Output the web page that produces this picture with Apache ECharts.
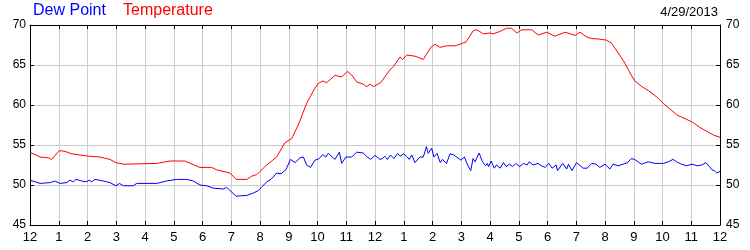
<!DOCTYPE html>
<html>
<head>
<meta charset="utf-8">
<script src="https://cdn.jsdelivr.net/npm/echarts@6/dist/echarts.min.js"></script>
<style>html,body{margin:0;padding:0;background:#fff}#c{width:750px;height:250px}</style>
</head>
<body>
<div id="c"></div>
<script>
const xTickLabels = ['12','1','2','3','4','5','6','7','8','9','10','11','12','1','2','3','4','5','6','7','8','9','10','11','12'];
const yTicks = [45, 50, 55, 60, 65, 70];
const dateText = '4/29/2013';

const tempHours = [0,0.35,0.64,0.75,1.02,1.22,1.45,2.03,2.43,2.78,2.99,3.25,4.41,4.87,5.39,5.91,6.32,6.49,6.96,7.17,7.54,7.71,7.89,8.0,8.23,8.58,8.87,9.1,9.33,9.62,9.74,9.91,10.03,10.18,10.32,10.61,10.84,11.04,11.19,11.36,11.59,11.71,11.83,11.94,12.2,12.52,12.64,12.87,12.96,13.1,13.39,13.68,13.94,14.09,14.26,14.49,14.78,14.96,15.17,15.42,15.54,15.77,16.0,16.11,16.35,16.58,16.75,16.93,17.1,17.45,17.68,17.97,18.26,18.61,18.96,19.13,19.36,19.54,19.77,20.06,20.23,20.46,20.7,20.87,21.04,21.28,21.51,21.8,22.03,22.26,22.5,22.84,23.07,23.3,23.54,23.77,24];
const tempValues = [54.1,53.5,53.4,53.2,54.3,54.2,53.9,53.6,53.5,53.2,52.8,52.6,52.7,53.0,53.0,52.2,52.2,51.9,51.5,50.7,50.7,51.1,51.3,51.7,52.5,53.5,55.3,55.8,57.5,60.2,61.0,62.1,62.7,63.0,62.8,63.7,63.5,64.2,63.75,62.9,62.6,62.3,62.6,62.3,62.8,64.4,64.8,66.0,65.7,66.25,66.1,65.7,67.2,67.6,67.2,67.4,67.4,67.6,67.9,69.3,69.4,68.9,69.0,68.9,69.2,69.6,69.6,69.0,69.4,69.4,68.75,69.1,68.6,69.1,68.7,69.1,68.5,68.3,68.25,68.1,67.7,66.5,65.2,64.0,63.0,62.3,61.8,61.0,60.2,59.5,58.75,58.2,57.8,57.2,56.7,56.25,55.95];

const dewHours = [0,0.35,0.7,0.87,1.04,1.28,1.39,1.51,1.6,1.8,1.95,2.06,2.15,2.26,2.55,2.78,2.99,3.11,3.25,3.59,3.71,4.41,4.75,5.1,5.45,5.68,5.91,6.15,6.38,6.72,6.84,7.02,7.17,7.54,7.77,7.94,8.07,8.24,8.41,8.58,8.73,8.9,9.06,9.22,9.39,9.51,9.62,9.76,9.91,10.06,10.18,10.29,10.37,10.61,10.76,10.84,10.99,11.19,11.36,11.59,11.73,11.85,12.0,12.17,12.26,12.34,12.43,12.54,12.66,12.78,12.87,13.0,13.12,13.19,13.28,13.39,13.56,13.68,13.79,13.85,13.97,14.05,14.16,14.27,14.34,14.49,14.61,14.74,14.99,15.05,15.11,15.22,15.33,15.41,15.48,15.62,15.74,15.85,15.91,15.95,16.04,16.15,16.23,16.35,16.47,16.56,16.68,16.79,16.9,17.03,17.17,17.29,17.36,17.5,17.67,17.74,17.91,18.05,18.16,18.3,18.35,18.53,18.67,18.73,18.85,19.01,19.24,19.38,19.54,19.68,19.82,20.0,20.17,20.28,20.45,20.63,20.79,20.91,21.03,21.15,21.27,21.5,21.74,21.91,22.03,22.2,22.37,22.49,22.66,22.84,23.03,23.2,23.37,23.51,23.63,23.72,23.8,23.89,24];
const dewValues = [50.6,50.2,50.3,50.5,50.2,50.3,50.6,50.4,50.7,50.5,50.4,50.6,50.4,50.7,50.5,50.3,49.9,50.2,49.9,49.9,50.2,50.2,50.5,50.7,50.7,50.5,50.0,49.9,49.6,49.5,49.7,49.1,48.6,48.7,49.0,49.3,49.8,50.4,50.8,51.5,51.4,51.9,53.2,52.8,53.4,53.5,52.5,52.2,53.1,53.3,53.8,53.5,53.95,53.2,54.1,52.7,53.5,53.5,54.1,54.0,53.5,53.2,53.7,53.2,53.3,53.6,53.2,53.75,53.3,53.95,53.6,53.9,53.5,53.2,53.75,52.8,53.5,53.5,54.8,53.95,54.6,53.5,53.95,52.8,53.2,52.7,53.9,53.75,53.1,53.3,53.5,52.5,51.8,53.3,52.9,54.0,52.9,52.4,52.7,52.3,53.0,52.1,52.5,52.1,52.8,52.3,52.6,52.3,52.7,52.3,52.7,52.5,52.9,52.5,52.7,52.5,52.2,52.7,52.1,52.5,51.8,52.7,52.0,52.6,51.8,52.8,52.1,52.1,52.7,52.6,52.2,52.6,52.0,52.6,52.4,52.6,52.8,53.3,53.2,52.9,52.6,52.9,52.7,52.7,52.7,52.9,53.2,52.9,52.6,52.4,52.6,52.4,52.5,52.8,52.3,51.9,51.8,51.5,51.7,51.5,51.8,51.8];

function zip(xs, ys) { return xs.map((x, i) => [x, ys[i]]); }

const chart = echarts.init(document.getElementById('c'), null, { renderer: 'canvas' });
const axisFont = { fontFamily: 'Liberation Sans, Arial, sans-serif', color: '#000' };
const gridColor = '#cccccc';

chart.setOption({
  animation: false,
  backgroundColor: '#ffffff',
  grid: { left: 30, right: 30, top: 25, bottom: 25, containLabel: false, outerBoundsMode: 'none' },
  graphic: [
    { type: 'text', left: 33, top: 3, style: { text: 'Dew Point', fill: '#0000ff', font: '16px "Liberation Sans", Arial, sans-serif' } },
    { type: 'text', left: 123, top: 3, style: { text: 'Temperature', fill: '#ff0000', font: '16px "Liberation Sans", Arial, sans-serif' } },
    { type: 'text', right: 32, top: 6, style: { text: dateText, fill: '#000', font: '13px "Liberation Sans", Arial, sans-serif' } }
  ],
  xAxis: [
    {
      type: 'value', min: 0, max: 24, interval: 1, position: 'bottom',
      axisLine: { show: true, onZero: false, lineStyle: { color: '#000', width: 1 } },
      axisTick: { show: true, inside: true, length: 4, lineStyle: { color: '#000' } },
      axisLabel: { ...axisFont, fontSize: 13, margin: 6, formatter: v => xTickLabels[Math.round(v)] },
      splitLine: { show: true, lineStyle: { color: gridColor, width: 1 } }
    },
    {
      type: 'value', min: 0, max: 24, interval: 1, position: 'top',
      axisLine: { show: true, onZero: false, lineStyle: { color: '#000', width: 1 } },
      axisTick: { show: true, inside: true, length: 4, lineStyle: { color: '#000' } },
      axisLabel: { show: false },
      splitLine: { show: false }
    }
  ],
  yAxis: [
    {
      type: 'value', min: yTicks[0], max: yTicks[yTicks.length - 1], interval: 5, position: 'left',
      axisLine: { show: true, onZero: false, lineStyle: { color: '#000', width: 1 } },
      axisTick: { show: true, inside: true, length: 4, lineStyle: { color: '#000' } },
      axisLabel: { ...axisFont, fontSize: 12, margin: 4 },
      splitLine: { show: true, lineStyle: { color: gridColor, width: 1 } }
    },
    {
      type: 'value', min: yTicks[0], max: yTicks[yTicks.length - 1], interval: 5, position: 'right',
      axisLine: { show: true, onZero: false, lineStyle: { color: '#000', width: 1 } },
      axisTick: { show: true, inside: true, length: 4, lineStyle: { color: '#000' } },
      axisLabel: { ...axisFont, fontSize: 12, margin: 6 },
      splitLine: { show: false }
    }
  ],
  series: [
    { name: 'Temperature', type: 'line', data: zip(tempHours, tempValues), showSymbol: false, symbol: 'none',
      lineStyle: { color: '#ff0000', width: 1 }, itemStyle: { color: '#ff0000' }, z: 3 },
    { name: 'Dew Point', type: 'line', data: zip(dewHours, dewValues), showSymbol: false, symbol: 'none',
      lineStyle: { color: '#0000ff', width: 1 }, itemStyle: { color: '#0000ff' }, z: 4 }
  ]
});
</script>
</body>
</html>
